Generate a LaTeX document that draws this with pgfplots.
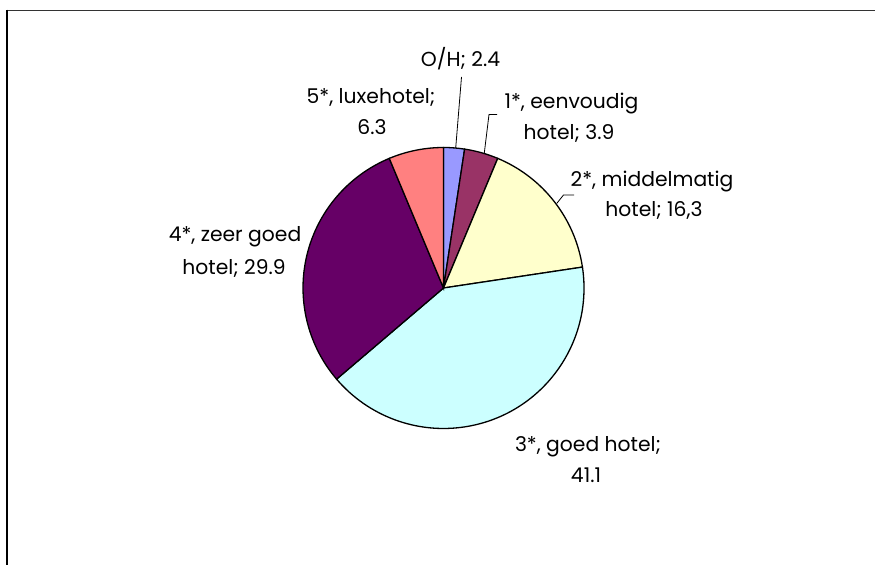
\documentclass[border=0pt]{standalone}
\usepackage{pgfplots}
\usepackage{pgfplotstable}
\pgfplotsset{compat=1.18}
\usepackage{fontspec}
\setmainfont{Poppins}
\definecolor{cOH}{HTML}{9999FF}
\definecolor{cA}{HTML}{993366}
\definecolor{cB}{HTML}{FFFFCC}
\definecolor{cC}{HTML}{CCFFFF}
\definecolor{cD}{HTML}{660066}
\definecolor{cE}{HTML}{FF8080}
\tikzset{lab/.style={font=\fontsize{20.3bp}{24bp}\selectfont, text=black, inner sep=0pt, anchor=base}}
\pgfplotstableread{
label value
OH 2.4
een 3.9
mid 16.3
goed 41.1
zeer 29.9
luxe 6.3
}\piedata
\begin{document}
\begin{tikzpicture}
\xdef\total{0}
\foreach \i in {0,...,5}{
  \pgfplotstablegetelem{\i}{value}\of\piedata
  \pgfmathparse{\total+\pgfplotsretval}\xdef\total{\pgfmathresult}
}
\xdef\cum{90}
\foreach \i in {0,...,5}{
  \pgfplotstablegetelem{\i}{value}\of\piedata
  \pgfmathparse{\cum-360*\pgfplotsretval/\total}
  \expandafter\xdef\csname st\romannumeral\numexpr\i+1\relax\endcsname{\cum}
  \xdef\cum{\pgfmathresult}
  \expandafter\xdef\csname en\romannumeral\numexpr\i+1\relax\endcsname{\cum}
}
\begin{axis}[
  width=875bp, height=565bp, scale only axis,
  xmin=0, xmax=875, ymin=0, ymax=565,
  hide axis, clip=false,
]
\def\R{140.5bp}
\filldraw[fill=cOH, draw=black, line width=1.3bp] (axis cs:443.5,277) -- ++(\sti:\R) arc[start angle=\sti, end angle=\eni, radius=\R] -- cycle;
\filldraw[fill=cA, draw=black, line width=1.3bp] (axis cs:443.5,277) -- ++(\stii:\R) arc[start angle=\stii, end angle=\enii, radius=\R] -- cycle;
\filldraw[fill=cB, draw=black, line width=1.3bp] (axis cs:443.5,277) -- ++(\stiii:\R) arc[start angle=\stiii, end angle=\eniii, radius=\R] -- cycle;
\filldraw[fill=cC, draw=black, line width=1.3bp] (axis cs:443.5,277) -- ++(\stiv:\R) arc[start angle=\stiv, end angle=\eniv, radius=\R] -- cycle;
\filldraw[fill=cD, draw=black, line width=1.3bp] (axis cs:443.5,277) -- ++(\stv:\R) arc[start angle=\stv, end angle=\env, radius=\R] -- cycle;
\filldraw[fill=cE, draw=black, line width=1.3bp] (axis cs:443.5,277) -- ++(\stvi:\R) arc[start angle=\stvi, end angle=\envi, radius=\R] -- cycle;
% leader lines
\draw[black, line width=0.8bp] (axis cs:461.5,488) -- (axis cs:455.7,417);
\draw[black, line width=0.8bp] (axis cs:497,450.5) -- (axis cs:489,450.5) -- (axis cs:484.3,412);
\draw[black, line width=0.8bp] (axis cs:574,370) -- (axis cs:563.5,370) -- (axis cs:556.7,361.5);
% labels
\node[lab] at (axis cs:460.5,498.3) {O/H; 2.4};
\node[lab] at (axis cs:371,461) {5*, luxehotel;};
\node[lab] at (axis cs:372,430) {6.3};
\node[lab] at (axis cs:571.5,456) {1*, eenvoudig};
\node[lab] at (axis cs:569,425) {hotel; 3.9};
\node[lab] at (axis cs:652,378.5) {2*, middelmatig};
\node[lab] at (axis cs:654,348.5) {hotel; 16,3};
\node[lab] at (axis cs:235,323.3) {4*, zeer goed};
\node[lab] at (axis cs:234,290.7) {hotel; 29.9};
\node[lab] at (axis cs:588,113.5) {3*, goed hotel;};
\node[lab] at (axis cs:586,82) {41.1};
% frame
\draw[black!80, line width=1.6bp] (axis cs:7,554.5) -- (axis cs:875,554.5);
\draw[black, line width=2bp] (axis cs:7,555.3) -- (axis cs:7,0);
\end{axis}
\pgfresetboundingbox
\path (0,0) rectangle (875bp,565bp);
\end{tikzpicture}
\end{document}
